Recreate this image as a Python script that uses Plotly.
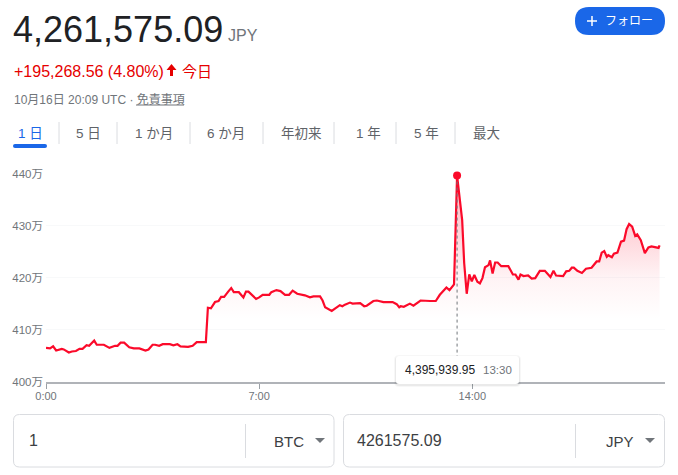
import plotly.graph_objects as go

W = 678
H = 475

# minutes since 0:00
times = [0, 8, 14, 20, 31, 35, 45, 51, 59, 66, 72, 80, 85, 95, 100, 114, 125, 136, 141, 147, 154, 164, 173, 184, 196, 202,
         210, 215, 223, 230, 244, 251, 259, 265, 280, 289, 297, 315, 319, 325, 333, 340, 345, 351, 359, 365, 370, 380, 389,
         394, 399, 414, 420, 427, 440, 444, 454, 462, 471, 479, 486, 495, 510, 520, 527, 540, 545, 550, 563, 573, 579, 584,
         589, 599, 604, 619, 627, 632, 645, 652, 665, 683, 691, 696, 699, 705, 717, 724, 730, 738, 757, 768, 776, 789, 795,
         804, 810, 816, 820, 824, 829, 834, 839, 844, 850, 855, 860, 865, 872, 875, 880, 885, 890, 897, 911, 920, 925, 931,
         935, 941, 950, 957, 964, 973, 983, 994, 1000, 1005, 1019, 1025, 1031, 1036, 1040, 1047, 1056, 1064, 1075, 1085, 1090,
         1095, 1100, 1105, 1108, 1115, 1119, 1126, 1133, 1139, 1144, 1149, 1155, 1161, 1165, 1172, 1180, 1187, 1193, 1207, 1209]
# price in 万 JPY
prices = [406.5, 406.4, 406.8, 406.0, 406.3, 406.2, 405.6, 405.8, 405.9, 406.3, 406.3, 407.0, 406.9, 407.9, 407.1, 407.1, 406.5, 406.9, 406.9, 407.5, 407.5, 406.6, 406.4, 406.4, 406.0, 406.2,
          407.1, 407.1, 406.9, 407.2, 407.2, 407.0, 407.2, 406.8, 406.7, 406.9, 407.6, 407.6, 414.2, 414.1, 415.3, 415.5, 416.3, 416.3, 417.3, 418.0, 417.2, 417.2, 416.2,
          417.3, 417.3, 415.9, 416.2, 416.7, 416.7, 417.2, 417.6, 417.4, 416.7, 416.7, 417.5, 416.9, 416.6, 416.2, 416.4, 416.4, 415.6, 414.3, 413.6, 414.2, 414.7, 414.5,
          414.8, 415.2, 415.0, 415.1, 414.5, 414.6, 415.5, 415.6, 415.3, 415.3, 414.9, 414.3, 414.5, 414.4, 415.0, 414.6, 415.0, 415.6, 415.5, 415.5, 416.7, 418.1, 417.6,
          418.7, 439.6, 434.9, 431.1, 422.8, 416.9, 420.6, 419.3, 420.5, 419.2, 418.9, 419.9, 422.0, 422.4, 423.3, 420.8, 422.9, 422.9, 422.2, 422.2, 420.6, 420.6, 419.6,
          420.6, 420.3, 420.4, 419.8, 419.9, 421.3, 421.3, 420.1, 421.3, 420.4, 420.3, 421.2, 421.3, 421.9, 421.9, 421.3, 420.9, 421.7, 421.9, 423.1, 423.1,
          424.8, 425.1, 424.0, 424.3, 423.9, 424.6, 424.8, 426.9, 427.1, 429.3, 430.3, 429.8, 428.0, 428.3, 427.2, 424.7, 425.8, 426.0, 425.7, 426.2]
peak_time = [810]
peak_price = [439.6]

y_ticks = [400, 410, 420, 430, 440]
y_labels = ["400万", "410万", "420万", "430万", "440万"]
x_ticks = [0, 420, 840]
x_labels = ["0:00", "7:00", "14:00"]
tab_labels = ["1 日", "5 日", "1 か月", "6 か月", "年初来", "1 年", "5 年", "最大"]
tab_centers = [30, 88, 154, 226, 301, 368, 426, 486]
tab_seps = [59, 117, 190, 263, 334, 396, 455]

FONT = "'Liberation Sans', 'Noto Sans CJK JP', sans-serif"
LINE = "#fb0a2a"
GREY = "#70757a"
BLUE = "#1a67e8"


def px(x):
    return x / W


def py(y):
    return 1 - y / H


def rounded(x0, y0, x1, y1, r):
    a, b, c, d = px(x0), py(y0), px(x1), py(y1)
    rx, ry = r / W, r / H
    return (f"M {a+rx} {b} L {c-rx} {b} Q {c} {b} {c} {b-ry} L {c} {d+ry} Q {c} {d} {c-rx} {d} "
            f"L {a+rx} {d} Q {a} {d} {a} {d+ry} L {a} {b-ry} Q {a} {b} {a+rx} {b} Z")


def poly(points):
    return "M " + " L ".join(f"{px(x)} {py(y)}" for x, y in points) + " Z"


def text(s, x, y, size, color, anchor="left", **kw):
    return dict(text=s, x=px(x), y=py(y), xref="paper", yref="paper", showarrow=False, xanchor=anchor, yanchor="middle",
                borderpad=0, font=dict(family=FONT, size=size, color=color), **kw)


def box(x0, y0, x1, y1, r, fill, line=None, width=1):
    return dict(type="path", path=rounded(x0, y0, x1, y1, r), xref="paper", yref="paper", fillcolor=fill,
                line=dict(color=line or "rgba(0,0,0,0)", width=width if line else 0))


def seg(x0, y0, x1, y1, color, width=1):
    return dict(type="line", x0=px(x0), y0=py(y0), x1=px(x1), y1=py(y1), xref="paper", yref="paper",
                line=dict(color=color, width=width))


fig = go.Figure()
fig.add_trace(go.Scatter(x=times, y=prices, mode="lines", line=dict(color=LINE, width=2.2), fill="tozeroy",
                         fillgradient=dict(type="vertical", start=440, stop=412,
                                           colorscale=[[0, "rgba(251,10,42,0.3)"], [0.43, "rgba(251,10,42,0.17)"],
                                                       [0.71, "rgba(251,10,42,0.05)"], [1, "rgba(251,10,42,0)"]]),
                         hoverinfo="skip"))
fig.add_trace(go.Scatter(x=[peak_time[0], peak_time[0]], y=[peak_price[0], y_ticks[0]], mode="lines",
                         line=dict(color=GREY, width=1, dash="dot"), hoverinfo="skip"))
fig.add_trace(go.Scatter(x=peak_time, y=peak_price, mode="markers", marker=dict(color=LINE, size=8), cliponaxis=False,
                         hoverinfo="skip"))

shapes = []
# follow button
shapes.append(box(575, 7, 665, 35, 14, BLUE))
shapes.append(seg(587, 21, 597, 21, "white", 1.5))
shapes.append(seg(592, 16, 592, 26, "white", 1.5))
# arrow next to the change
shapes.append(dict(type="path", xref="paper", yref="paper", fillcolor="#e60000", line=dict(width=0),
                   path=poly([(171.5, 64), (176.5, 70), (173, 70), (173, 76), (170, 76), (170, 70), (166.5, 70)])))
shapes.append(seg(136, 105, 184, 105, GREY))
# tabs
for s in tab_seps:
    shapes.append(seg(s, 122, s, 144, "#dadce0"))
shapes.append(box(13, 144, 47, 148, 2, BLUE))
# tooltip with a soft shadow
shapes.append(box(394, 355, 521, 387, 5, "rgba(0,0,0,0.03)"))
shapes.append(box(395, 356, 520, 386, 4, "rgba(0,0,0,0.05)"))
shapes.append(box(396, 356, 519, 384, 3, "white"))
# converter boxes
shapes.append(box(13.5, 414.5, 334, 467, 6, "white", "#dadce0"))
shapes.append(box(343.5, 414.5, 664.5, 467, 6, "white", "#dadce0"))
for s in [245.5, 575.5]:
    shapes.append(seg(s, 424, s, 458, "#dadce0"))
for c in [320, 650]:
    shapes.append(dict(type="path", xref="paper", yref="paper", fillcolor=GREY, line=dict(width=0),
                       path=poly([(c - 5, 438), (c + 5, 438), (c, 443)])))

annotations = [
    text("4,261,575.09", 12, 30, 36, "#202124"),
    text("JPY", 227, 36, 16, GREY),
    text("フォロー", 604, 21, 12, "white"),
    text("+195,268.56 (4.80%)", 13, 71, 16, "#e60000"),
    text("今日", 181, 71, 15, "#e60000"),
    text("10月16日 20:09 UTC · 免責事項", 13, 99, 12, GREY),
    text("4,395,939.95", 403.5, 370, 12, "#202124"),
    text("13:30", 482, 370, 11.5, GREY),
    text("1", 27.5, 440, 16, "#3c4043"),
    text("BTC", 273, 441, 15, "#3c4043"),
    text("4261575.09", 356, 440, 16, "#3c4043"),
    text("JPY", 605, 441, 15, "#3c4043"),
]
for i, label in enumerate(tab_labels):
    annotations.append(text(label, tab_centers[i], 133, 13.5, BLUE if i == 0 else "#5f6368", anchor="center"))

fig.update_layout(
    width=W, height=H, margin=dict(l=0, r=0, t=0, b=0), autosize=False,
    paper_bgcolor="white", plot_bgcolor="white", showlegend=False,
    shapes=shapes, annotations=annotations,
    xaxis=dict(domain=[46 / W, 665 / W], range=[0, 1219.7], tickvals=x_ticks, ticktext=x_labels, ticks="outside", ticklen=5,
               tickcolor="#9aa0a6", tickfont=dict(family=FONT, size=11, color=GREY), showgrid=False, zeroline=False,
               showline=True, linecolor="#b0b3b8", linewidth=2, automargin=False, ticklabelstandoff=-2),
    yaxis=dict(domain=[1 - 381.7 / H, 1 - 173.5 / H], range=[400, 440], tickvals=y_ticks, ticktext=y_labels, ticks="",
               tickfont=dict(family=FONT, size=11.5, color=GREY), showgrid=True, gridcolor="#f8f9fa", zeroline=False,
               showline=False, automargin=False, ticklabelstandoff=2),
)

fig.write_html("out.html", config=dict(displayModeBar=False), post_script="document.body.style.margin='0';")
